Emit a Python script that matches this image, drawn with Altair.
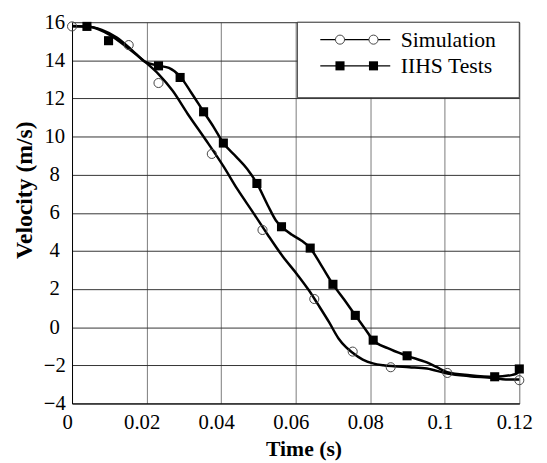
import altair as alt
import pandas as pd

# ---- data ----
sim_line_t = [0, 0.005, 0.01, 0.015, 0.0196, 0.0232, 0.027, 0.031, 0.0358, 0.0406, 0.0445, 0.0485,
              0.0525, 0.0565, 0.0604, 0.0635, 0.0662, 0.069, 0.0715, 0.0735, 0.075, 0.078, 0.0807,
              0.0835, 0.0864, 0.0905, 0.0952, 0.1007, 0.1067, 0.1129, 0.1164, 0.12]
sim_line_v = [15.8, 15.75, 15.35, 14.65, 13.92, 13.28, 12.4, 11.2, 9.85, 8.45, 7.2, 6.04,
              4.85, 3.72, 2.77, 1.95, 1.13, 0.25, -0.59, -1.05, -1.3, -1.7, -1.9,
              -2.0, -2.05, -2.1, -2.17, -2.43, -2.57, -2.66, -2.74, -2.74]

iihs_line_t = [0, 0.004, 0.008, 0.012, 0.016, 0.0196, 0.0232, 0.026, 0.029, 0.032, 0.0353, 0.038,
               0.0406, 0.044, 0.047, 0.0496, 0.0525, 0.0547, 0.0562, 0.059, 0.0615, 0.0639, 0.067,
               0.070, 0.073, 0.076, 0.0785, 0.0808, 0.0847, 0.0899, 0.0952, 0.0979, 0.1007, 0.1067,
               0.1134, 0.1182, 0.1195, 0.12]
iihs_line_v = [15.78, 15.78, 15.6, 15.2, 14.55, 13.92, 13.72, 13.6, 13.15, 12.3, 11.3, 10.5,
               9.66, 8.95, 8.3, 7.54, 6.4, 5.6, 5.27, 4.85, 4.55, 4.15, 3.2,
               2.25, 1.45, 0.62, -0.05, -0.68, -1.1, -1.5, -1.85, -2.1, -2.36, -2.52,
               -2.6, -2.5, -2.4, -2.19]

sim_mark_t = [0, 0.0152, 0.0232, 0.0375, 0.0511, 0.065, 0.0753, 0.0855, 0.1007, 0.12]
sim_mark_v = [15.78, 14.8, 12.81, 9.09, 5.1, 1.48, -1.28, -2.1, -2.4, -2.78]

iihs_mark_t = [0.004, 0.0098, 0.0232, 0.029, 0.0353, 0.0406, 0.0496, 0.0562, 0.0639, 0.070,
               0.076, 0.0808, 0.0899, 0.1134, 0.12]
iihs_mark_v = [15.78, 15.03, 13.71, 13.1, 11.3, 9.66, 7.54, 5.27, 4.15, 2.25,
               0.62, -0.68, -1.5, -2.6, -2.19]

series_names = ["Simulation", "IIHS Tests"]
x_ticks = [0, 0.02, 0.04, 0.06, 0.08, 0.1, 0.12]
y_ticks = [-4, -2, 0, 2, 4, 6, 8, 10, 12, 14, 16]

FONT = "Liberation Serif"
W, H = 454, 387

lines_df = pd.concat([
    pd.DataFrame({"t": sim_line_t, "v": sim_line_v, "series": series_names[0]}),
    pd.DataFrame({"t": iihs_line_t, "v": iihs_line_v, "series": series_names[1]}),
])
sim_df = pd.DataFrame({"t": sim_mark_t, "v": sim_mark_v})
iihs_df = pd.DataFrame({"t": iihs_mark_t, "v": iihs_mark_v})
one = pd.DataFrame({"k": [0]})

xs = alt.Scale(domain=[0, 0.12], nice=False, zero=False)
ys = alt.Scale(domain=[-4, 16], nice=False, zero=False)

x_enc = alt.X("t:Q", scale=xs, axis=alt.Axis(
    values=x_ticks, tickCount=len(x_ticks), labelExpr="format(datum.value, '.2~f')",
    title="Time (s)", grid=True, gridColor="#7a7a7a",
    ticks=False, labelPadding=8, labelOffset=-5, labelFontSize=21, labelFont=FONT,
    labelColor="black", titleFont=FONT, titleFontSize=22, titleFontWeight="bold",
    titleColor="black", titleX=235, titleY=46, titleBaseline="middle", titleAlign="center",
    domainColor="black", labelFlush=False, labelOverlap=False))
y_enc = alt.Y("v:Q", scale=ys, axis=alt.Axis(
    values=y_ticks, tickCount=len(y_ticks), title="Velocity (m/s)", grid=True,
    gridColor="#333333",
    ticks=False, labelPadding=18, labelAlign="center", labelBaseline="middle",
    labelFontSize=21, labelFont=FONT, labelColor="black", titleFont=FONT, titleFontSize=24,
    titleFontWeight="bold", titleColor="black", titleX=-48, titleY=170, titleAngle=270,
    titleAlign="center", titleBaseline="middle", domainColor="black",
    labelFlush=False, labelOverlap=False))

lines = alt.Chart(lines_df).mark_line(color="black", strokeWidth=2.5, interpolate="monotone").encode(
    x=x_enc, y=y_enc, detail="series:N")
sim_pts = alt.Chart(sim_df).mark_point(shape="circle", size=85, filled=False, color="#444444",
                                        strokeWidth=1, opacity=1).encode(
    x=alt.X("t:Q", scale=xs), y=alt.Y("v:Q", scale=ys))
iihs_pts = alt.Chart(iihs_df).mark_point(shape="square", size=85, filled=True, color="black",
                                         opacity=1).encode(
    x=alt.X("t:Q", scale=xs), y=alt.Y("v:Q", scale=ys))

# ---- legend drawn inside the plot (upper right) ----
box = alt.Chart(one).mark_rect(fill="white", stroke="#333333", strokeWidth=1).encode(
    x=alt.value(228.7), x2=alt.value(454), y=alt.value(0), y2=alt.value(76.7))
leg_layers = [box]
for i, (yy, name) in enumerate([(17.7, series_names[0]), (44.3, series_names[1])]):
    leg_layers.append(alt.Chart(one).mark_rule(color="black", strokeWidth=1.2).encode(
        x=alt.value(252), x2=alt.value(323), y=alt.value(yy)))
    for xx in (272, 306):
        if i == 0:
            leg_layers.append(alt.Chart(one).mark_point(shape="circle", size=85, filled=True,
                                                        fill="white", stroke="#444444",
                                                        strokeWidth=1, opacity=1).encode(
                x=alt.value(xx), y=alt.value(yy)))
        else:
            leg_layers.append(alt.Chart(one).mark_point(shape="square", size=85, filled=True,
                                                        color="black", opacity=1).encode(
                x=alt.value(xx), y=alt.value(yy)))
    leg_layers.append(alt.Chart(one).mark_text(text=name, font=FONT, fontSize=22, align="left",
                                               baseline="middle", color="black").encode(
        x=alt.value(333.7), y=alt.value(yy)))

chart = alt.layer(lines, sim_pts, iihs_pts, *leg_layers).properties(
    width=W, height=H,
    autosize=alt.AutoSizeParams(type="none"),
    padding={"left": 65, "top": 11, "right": 20, "bottom": 55},
).configure_view(stroke="#555555", strokeWidth=1).configure(background="white")

chart.save("out.html", embed_options={"renderer": "svg", "actions": False})
